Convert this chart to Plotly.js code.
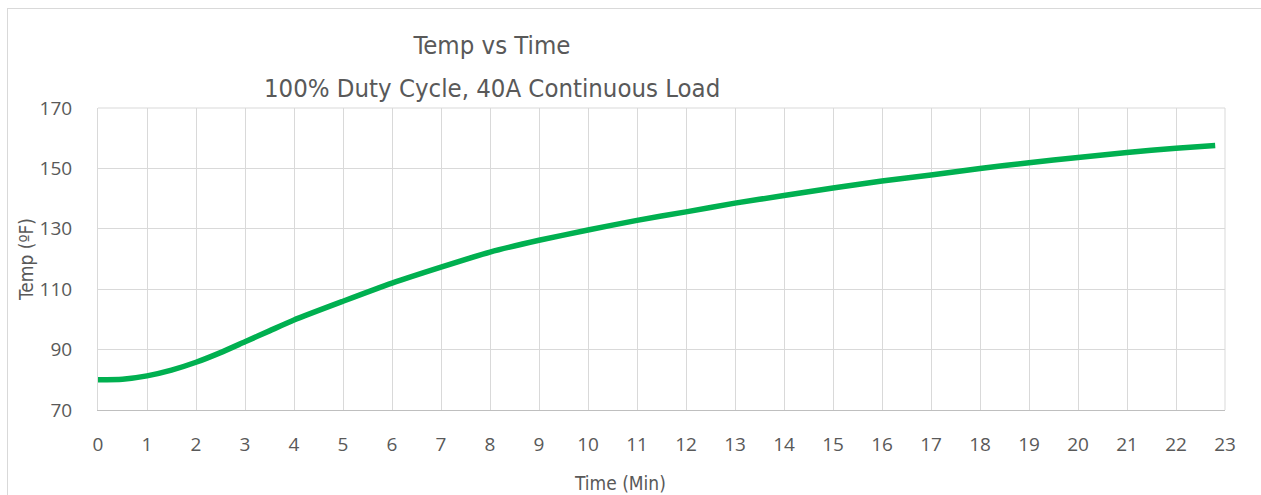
<!DOCTYPE html>
<html>
<head>
<meta charset="utf-8">
<script src="https://cdn.plot.ly/plotly-3.0.1.min.js"></script>
<style>
  html, body { margin: 0; padding: 0; background: #ffffff; overflow: hidden; }
  #chart { position: absolute; left: 0; top: 0; width: 1261px; height: 495px; }
  #frame { position: absolute; left: 7px; top: 8px; width: 1400px; height: 600px;
           border: 1px solid #d9d9d9; pointer-events: none; }
</style>
</head>
<body>
<div id="frame"></div>
<div id="chart"></div>
<script>
// Data
const timeMin = [0, 0.5, 1, 1.5, 2, 2.5, 3, 3.5, 4, 5, 6, 7, 8, 9, 10, 11, 12, 13, 14, 15, 16, 17, 18, 19, 20, 21, 22, 22.8];
const tempF   = [80, 80.2, 81.3, 83.2, 85.8, 89.0, 92.6, 96.2, 99.8, 106.0, 112.0, 117.3, 122.3, 126.2, 129.6, 132.8, 135.6, 138.5, 141.0, 143.5, 145.8, 147.8, 150.0, 151.9, 153.6, 155.3, 156.7, 157.6];
const xTicks = [0,1,2,3,4,5,6,7,8,9,10,11,12,13,14,15,16,17,18,19,20,21,22,23];
const yTicks = [70, 90, 110, 130, 150, 170];
const titleLine1 = "Temp vs Time";
const titleLine2 = "100% Duty Cycle, 40A Continuous Load";
const xTitle = "Time (Min)";
const yTitle = "Temp (ºF)";

const condensed = "DejaVu Sans Condensed, Liberation Sans Narrow, DejaVu Sans, sans-serif";
const tickFont = { family: "Open Sans, Lato, sans-serif", size: 19, color: "#595959" };

const trace = {
  x: timeMin, y: tempF, type: "scatter", mode: "lines",
  line: { color: "#00B050", width: 5.5, shape: "spline", smoothing: 0.6 },
  hoverinfo: "x+y", showlegend: false
};

const plotL = 98, plotR = 1225, plotT = 108, plotB = 410;
const layout = {
  width: 1261, height: 495,
  margin: { l: plotL, r: 1261 - plotR, t: plotT, b: 495 - plotB },
  paper_bgcolor: "rgba(0,0,0,0)", plot_bgcolor: "#ffffff",
  title: {
    text: titleLine1,
    font: { family: condensed, size: 25.5, color: "#595959" },
    xref: "container", yref: "container",
    x: 492/1261, xanchor: "center",
    y: 1 - 45/495, yanchor: "middle"
  },
  annotations: [
    {
      text: titleLine2, xref: "paper", yref: "paper",
      x: (492 - plotL) / (plotR - plotL), y: 1 + (plotT - 88) / (plotB - plotT),
      xanchor: "center", yanchor: "middle", showarrow: false,
      font: { family: condensed, size: 25.5, color: "#595959" }
    },
    {
      text: xTitle, xref: "paper", yref: "paper",
      x: (620 - plotL) / (plotR - plotL), y: -(483 - plotB) / (plotB - plotT),
      xanchor: "center", yanchor: "middle", showarrow: false,
      font: { family: condensed, size: 19, color: "#595959" }
    }
  ],
  xaxis: {
    range: [0, 23], tickvals: xTicks, ticktext: xTicks.map(String),
    showgrid: true, gridcolor: "#d9d9d9", gridwidth: 1,
    showline: true, linecolor: "#bfbfbf", linewidth: 1, mirror: false,
    zeroline: false, ticks: "", tickfont: tickFont, ticklabelstandoff: 17,
    fixedrange: true
  },
  yaxis: {
    range: [70, 170], tickvals: yTicks, ticktext: yTicks.map(String),
    showgrid: true, gridcolor: "#d9d9d9", gridwidth: 1,
    showline: true, linecolor: "#d9d9d9", linewidth: 1,
    zeroline: false, ticks: "", tickfont: tickFont, ticklabelstandoff: 21,
    title: { text: yTitle, font: { family: condensed, size: 19, color: "#595959" }, standoff: 0 },
    fixedrange: true
  },
  shapes: [
    { type: "line", xref: "paper", yref: "paper", x0: 1, x1: 1, y0: 0, y1: 1, line: { color: "#d9d9d9", width: 1 } },
    { type: "line", xref: "paper", yref: "paper", x0: 0, x1: 1, y0: 1, y1: 1, line: { color: "#d9d9d9", width: 1 } }
  ]
};

Plotly.newPlot("chart", [trace], layout, { displayModeBar: false, staticPlot: true });
</script>
</body>
</html>
